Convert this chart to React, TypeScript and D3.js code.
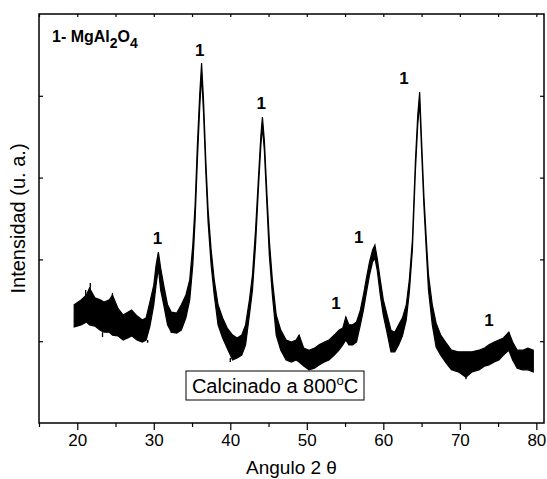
import { useEffect, useRef } from 'react'
import * as d3 from 'd3'

// 2-theta readings (deg) with the top and bottom of the noisy trace (a.u.)
const angles = [
  19.6, 20.5, 21.2, 21.6, 22.3, 23.0, 23.5, 24.2, 24.6, 25.3, 26.0, 26.6, 27.1, 27.8, 28.5, 29.0,
  29.5, 30.0, 30.3, 30.6, 30.9, 31.3, 31.8, 32.3, 33.0, 33.6, 34.2, 34.7, 35.1, 35.4, 35.7, 36.0,
  36.25, 36.5, 36.8, 37.1, 37.5, 37.9, 38.4, 39.0, 39.6, 40.3, 40.9, 41.5, 42.0, 42.5, 42.9, 43.3,
  43.7, 44.0, 44.2, 44.45, 44.8, 45.1, 45.5, 46.0, 46.6, 47.3, 48.0, 48.6, 49.0, 49.6, 50.3, 51.0,
  51.6, 52.3, 52.9, 53.6, 54.2, 54.7, 55.1, 55.5, 56.0, 56.5, 57.0, 57.4, 57.8, 58.2, 58.6, 58.9,
  59.2, 59.6, 60.0, 60.5, 61.0, 61.5, 62.0, 62.5, 63.0, 63.4, 63.8, 64.2, 64.5, 64.75, 65.0, 65.3,
  65.6, 65.9, 66.4, 66.9, 67.5, 68.2, 68.9, 69.8, 70.8, 71.6, 72.5, 73.2, 73.8, 74.5, 75.1, 75.7,
  76.4, 76.9, 77.5, 78.2, 78.9, 79.6
]
const upper = [
  289, 301, 313, 330, 306, 301, 296, 301, 313, 281, 264, 271, 276, 262, 252, 257,
  296, 337, 386, 418, 379, 337, 289, 271, 269, 289, 313, 350, 435, 533, 680, 802,
  880, 790, 643, 521, 423, 350, 289, 257, 232, 215, 208, 215, 240, 301, 362, 472,
  606, 704, 748, 692, 557, 447, 350, 264, 227, 203, 198, 203, 215, 183, 178, 183,
  191, 198, 203, 215, 227, 232, 259, 240, 240, 247, 276, 313, 355, 394, 423, 435,
  403, 350, 301, 264, 227, 222, 240, 257, 289, 350, 447, 643, 753, 809, 692, 557,
  455, 362, 289, 244, 215, 196, 178, 174, 174, 174, 178, 183, 191, 198, 203, 208,
  222, 198, 178, 178, 183, 178
]
const lower = [
  235, 240, 247, 240, 237, 227, 222, 222, 215, 213, 203, 208, 213, 203, 198, 203,
  237, 289, 337, 379, 325, 289, 240, 222, 220, 227, 257, 301, 386, 496, 643, 770,
  851, 760, 614, 491, 386, 313, 240, 208, 183, 154, 159, 166, 191, 264, 325, 435,
  582, 680, 724, 667, 528, 411, 313, 215, 178, 154, 149, 154, 149, 139, 130, 134,
  142, 149, 154, 166, 178, 191, 203, 191, 191, 198, 240, 276, 320, 362, 394, 403,
  374, 313, 264, 220, 174, 174, 191, 213, 252, 320, 423, 619, 729, 785, 667, 533,
  428, 325, 240, 186, 166, 147, 130, 125, 112, 125, 130, 139, 142, 149, 154, 166,
  178, 154, 134, 130, 130, 125
]

// single noise spikes that stick out of the band (angle, from, to)
const spikeAngles = [21.1, 21.7, 23.3, 24.6, 29.2, 32.3, 40.0, 49.0, 50.3, 55.1, 70.8, 73.8, 76.4]
const spikeFrom = [300, 300, 222, 301, 203, 222, 159, 198, 135, 220, 115, 170, 200]
const spikeTo = [325, 342, 210, 318, 196, 220, 149, 215, 130, 259, 107, 183, 222]

// "1" phase markers (angle, height of the mark)
const markAngles = [30.5, 36.0, 44.05, 53.8, 56.8, 62.7, 73.8]
const markHeights = [452, 912, 782, 293, 455, 844, 252]

const xMajorTicks = [20, 30, 40, 50, 60, 70, 80]
const xMinorTicks = [15, 25, 35, 45, 55, 65, 75]
const yTicks = [200, 400, 600, 800]

export default function App() {
  const svgRef = useRef<SVGSVGElement>(null)

  useEffect(() => {
    if (!svgRef.current) return
    const svg = d3.select(svgRef.current)
    svg.selectAll('*').remove()

    const width = 547
    const height = 479
    const left = 39, right = 544, top = 14, bottom = 423
    const font = 'Liberation Sans, Arial, sans-serif'

    svg.attr('width', width).attr('height', height)

    const x = d3.scaleLinear().domain([15, 81]).range([left, right])
    const y = d3.scaleLinear().domain([0, 1000]).range([bottom, top])

    // trace as a filled band between the noise envelope
    const pts = angles.map((a, i) => ({ a, hi: upper[i], lo: lower[i] }))
    const band = d3.area<any>()
      .x(d => x(d.a))
      .y0(d => y(d.lo))
      .y1(d => y(d.hi))
    svg.append('path')
      .datum(pts)
      .attr('d', band)
      .style('fill', '#000')
      .style('stroke', '#000')
      .style('stroke-width', 1.2)

    spikeAngles.forEach((a, i) => {
      svg.append('line')
        .attr('x1', x(a)).attr('x2', x(a))
        .attr('y1', y(spikeFrom[i])).attr('y2', y(spikeTo[i]))
        .style('stroke', '#000')
        .style('stroke-width', 1.3)
    })

    // frame + ticks
    const axisBottom = svg.append('g')
      .attr('transform', `translate(0,${bottom})`)
      .call(d3.axisBottom(x).tickValues(xMajorTicks).tickSize(7).tickPadding(4).tickFormat(d3.format('d')))
    axisBottom.append('g')
      .call(d3.axisBottom(x).tickValues(xMinorTicks).tickSize(4).tickFormat(() => ''))
    axisBottom.selectAll('.domain').remove()

    const axisTop = svg.append('g')
      .attr('transform', `translate(0,${top})`)
      .call(d3.axisBottom(x).tickValues(xMajorTicks.concat(xMinorTicks)).tickSize(3).tickFormat(() => ''))
    axisTop.selectAll('.domain').remove()

    const axisLeft = svg.append('g')
      .attr('transform', `translate(${left},0)`)
      .call(d3.axisRight(y).tickValues(yTicks).tickSize(4).tickFormat(() => ''))
    axisLeft.selectAll('.domain').remove()

    const axisRight = svg.append('g')
      .attr('transform', `translate(${right},0)`)
      .call(d3.axisLeft(y).tickValues(yTicks).tickSize(4).tickFormat(() => ''))
    axisRight.selectAll('.domain').remove()

    svg.selectAll('.tick line').style('stroke', '#000').style('stroke-width', 1.2)
    svg.selectAll('.tick text')
      .style('font-family', font)
      .style('font-size', '17px')
      .style('fill', '#000')

    svg.append('rect')
      .attr('x', left).attr('y', top)
      .attr('width', right - left).attr('height', bottom - top)
      .style('fill', 'none')
      .style('stroke', '#000')
      .style('stroke-width', 1.5)

    // peak marks
    markAngles.forEach((a, i) => {
      svg.append('text')
        .attr('x', x(a)).attr('y', y(markHeights[i]))
        .attr('dy', '0.36em')
        .attr('text-anchor', 'middle')
        .style('font-family', font)
        .style('font-size', '17px')
        .style('font-weight', 'bold')
        .text('1')
    })

    // phase legend
    const title = svg.append('text')
      .attr('x', 52).attr('y', 42)
      .style('font-family', font)
      .style('font-size', '16px')
      .style('font-weight', 'bold')
    title.append('tspan').text('1- MgAl')
    title.append('tspan').attr('dy', 6).style('font-size', '14px').text('2')
    title.append('tspan').attr('dy', -6).text('O')
    title.append('tspan').attr('dy', 6).style('font-size', '14px').text('4')

    // calcination box
    svg.append('rect')
      .attr('x', 186).attr('y', 371)
      .attr('width', 178).attr('height', 29)
      .style('fill', '#fff')
      .style('stroke', '#000')
      .style('stroke-width', 1)
    const calc = svg.append('text')
      .attr('x', 275).attr('y', 393)
      .attr('text-anchor', 'middle')
      .style('font-family', font)
      .style('font-size', '20px')
    calc.append('tspan').text('Calcinado a 800')
    calc.append('tspan').attr('dy', -8).style('font-size', '13px').text('o')
    calc.append('tspan').attr('dy', 8).text('C')

    // axis titles
    svg.append('text')
      .attr('x', (left + right) / 2).attr('y', 474)
      .attr('text-anchor', 'middle')
      .style('font-family', font)
      .style('font-size', '19px')
      .text('Angulo 2 θ')

    svg.append('text')
      .attr('transform', `translate(25,${(top + bottom) / 2}) rotate(-90)`)
      .attr('text-anchor', 'middle')
      .style('font-family', font)
      .style('font-size', '20px')
      .text('Intensidad (u. a.)')
  }, [])

  return (
    <div style={{ position: 'absolute', left: 0, top: 0 }}>
      <svg ref={svgRef}></svg>
    </div>
  )
}
